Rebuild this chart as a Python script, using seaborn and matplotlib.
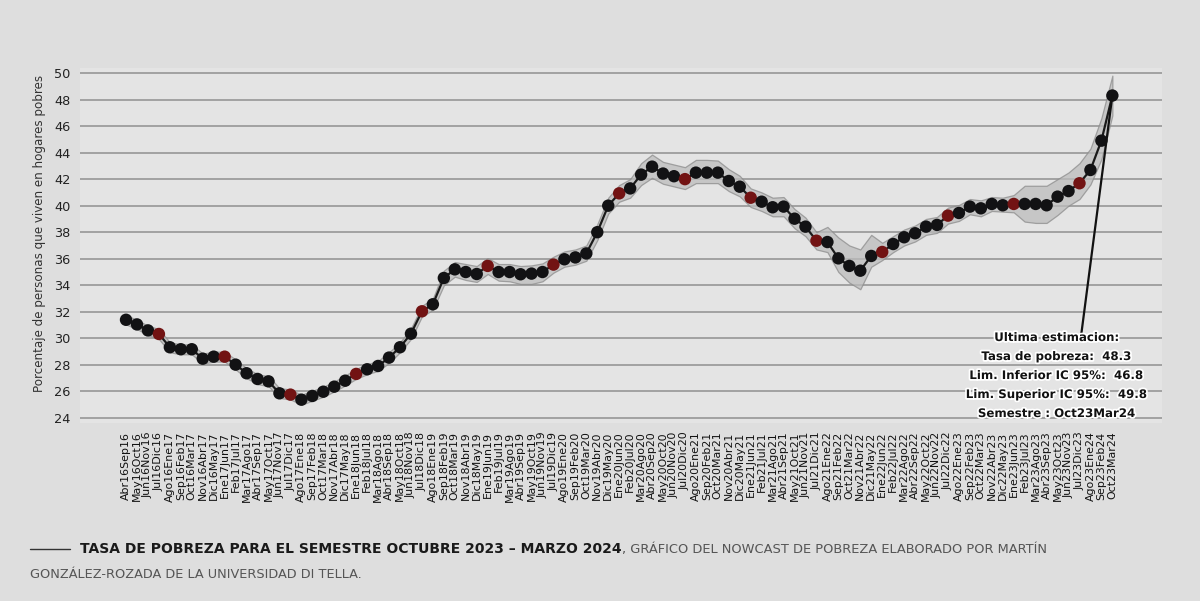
import numpy as np
import pandas as pd
import matplotlib
matplotlib.use("Agg")
import matplotlib.pyplot as plt
import matplotlib.patheffects as pe
import seaborn as sns

periods = [
    "Abr16Sep16", "May16Oct16", "Jun16Nov16", "Jul16Dic16", "Ago16Ene17", "Sep16Feb17",
    "Oct16Mar17", "Nov16Abr17", "Dic16May17",
    "Ene17Jun17", "Feb17Jul17", "Mar17Ago17", "Abr17Sep17", "May17Oct17", "Jun17Nov17",
    "Jul17Dic17", "Ago17Ene18", "Sep17Feb18", "Oct17Mar18", "Nov17Abr18", "Dic17May18",
    "Ene18Jun18", "Feb18Jul18", "Mar18Ago18", "Abr18Sep18", "May18Oct18", "Jun18Nov18",
    "Jul18Dic18", "Ago18Ene19", "Sep18Feb19", "Oct18Mar19", "Nov18Abr19", "Dic18May19",
    "Ene19Jun19", "Feb19Jul19", "Mar19Ago19", "Abr19Sep19", "May19Oct19", "Jun19Nov19",
    "Jul19Dic19", "Ago19Ene20", "Sep19Feb20", "Oct19Mar20", "Nov19Abr20", "Dic19May20",
    "Ene20Jun20", "Feb20Jul20", "Mar20Ago20", "Abr20Sep20", "May20Oct20", "Jun20Nov20",
    "Jul20Dic20", "Ago20Ene21", "Sep20Feb21", "Oct20Mar21", "Nov20Abr21", "Dic20May21",
    "Ene21Jun21", "Feb21Jul21", "Mar21Ago21", "Abr21Sep21", "May21Oct21", "Jun21Nov21",
    "Jul21Dic21", "Ago21Ene22", "Sep21Feb22", "Oct21Mar22", "Nov21Abr22", "Dic21May22",
    "Ene22Jun22", "Feb22Jul22", "Mar22Ago22", "Abr22Sep22", "May22Oct22", "Jun22Nov22",
    "Jul22Dic22", "Ago22Ene23", "Sep22Feb23", "Oct22Mar23", "Nov22Abr23", "Dic22May23",
    "Ene23Jun23", "Feb23Jul23", "Mar23Ago23", "Abr23Sep23", "May23Oct23", "Jun23Nov23",
    "Jul23Dic23", "Ago23Ene24", "Sep23Feb24", "Oct23Mar24",
]

poverty = [
    31.4, 31.05, 30.6, 30.33, 29.33, 29.18, 29.18, 28.47, 28.62, 28.62,
    28.02, 27.37, 26.94, 26.76, 25.86, 25.76, 25.38, 25.66, 25.98, 26.36,
    26.81, 27.32, 27.67, 27.92, 28.55, 29.33, 30.35, 32.04, 32.57, 34.55,
    35.2, 35.0, 34.85, 35.46, 35.0, 35.0, 34.83, 34.88, 35.0, 35.56,
    35.96, 36.1, 36.4, 38.0, 40.0, 40.93, 41.3, 42.34, 42.94, 42.42,
    42.22, 42.0, 42.49, 42.49, 42.49, 41.86, 41.43, 40.6, 40.3, 39.88,
    39.93, 39.02, 38.42, 37.36, 37.26, 36.03, 35.46, 35.1, 36.21, 36.51,
    37.11, 37.62, 37.92, 38.42, 38.55, 39.25, 39.45, 39.93, 39.8, 40.13,
    40.03, 40.13, 40.13, 40.13, 40.03, 40.68, 41.1, 41.69, 42.69, 44.9,
    48.3,
]

ci_lower = [
    31.05, 30.7, 30.25, 29.95, 28.95, 28.8, 28.8, 28.1, 28.25, 28.25,
    27.65, 27.0, 26.55, 26.4, 25.5, 25.4, 25.0, 25.3, 25.6, 26.0,
    26.45, 26.95, 27.3, 27.55, 28.15, 28.95, 29.95, 31.65, 32.15, 34.0,
    34.65, 34.4, 34.25, 34.85, 34.35, 34.3, 34.1, 34.1, 34.3, 34.95,
    35.4, 35.55, 35.85, 37.4, 39.4, 40.3, 40.6, 41.55, 42.1, 41.65,
    41.45, 41.25, 41.7, 41.7, 41.7, 41.1, 40.7, 39.9, 39.6, 39.2,
    39.2, 38.3, 37.7, 36.7, 36.5, 35.0, 34.2, 33.7, 35.4, 35.9,
    36.5, 37.0, 37.3, 37.8, 37.95, 38.65, 38.85, 39.35, 39.2, 39.6,
    39.55, 39.5, 38.8, 38.7, 38.7, 39.3, 40.0, 40.5, 41.6, 43.5,
    46.8,
]

ci_upper = [
    31.75, 31.4, 30.95, 30.7, 29.7, 29.55, 29.55, 28.85, 29.0, 29.0,
    28.4, 27.75, 27.3, 27.15, 26.25, 26.15, 25.75, 26.05, 26.35, 26.75,
    27.2, 27.7, 28.05, 28.3, 28.95, 29.7, 30.75, 32.45, 33.0, 35.1,
    35.75, 35.6, 35.45, 36.05, 35.6, 35.6, 35.45, 35.5, 35.65, 36.15,
    36.55, 36.7, 37.0, 38.6, 40.6, 41.55, 42.0, 43.2, 43.85, 43.3,
    43.1, 42.9, 43.45, 43.45, 43.4, 42.75, 42.25, 41.3, 41.0, 40.6,
    40.65, 39.75, 39.1, 38.0, 38.4, 37.6, 37.0, 36.7, 37.8, 37.2,
    37.7, 38.2, 38.5, 39.0, 39.15, 39.85, 40.05, 40.5, 40.4, 40.65,
    40.6, 40.8, 41.5, 41.5, 41.5, 42.0, 42.5, 43.2, 44.3, 46.6,
    49.8,
]

y_ticks = [24, 26, 28, 30, 32, 34, 36, 38, 40, 42, 44, 46, 48, 50]

annot_lines = [
    "Ultima estimacion:",
    "Tasa de pobreza:  48.3",
    "Lim. Inferior IC 95%:  46.8",
    "Lim. Superior IC 95%:  49.8",
    "Semestre : Oct23Mar24",
]

caption_bold = "TASA DE POBREZA PARA EL SEMESTRE OCTUBRE 2023 \u2013 MARZO 2024"
caption_rest = ", GR\u00c1FICO DEL NOWCAST DE POBREZA ELABORADO POR MART\u00cdN"
caption_line2 = "GONZ\u00c1LEZ-ROZADA DE LA UNIVERSIDAD DI TELLA."

df = pd.DataFrame({
    "idx": np.arange(len(periods)),
    "periodo": periods,
    "tasa": poverty,
    "lo": ci_lower,
    "hi": ci_upper,
})
df["oficial"] = df["periodo"].str.startswith(("Ene", "Jul"))

sns.set_theme(style="white")
plt.rcParams["font.family"] = ["DejaVu Sans"]

BG = "#dedede"
AXBG = "#e4e4e4"

fig = plt.figure(figsize=(12, 6.01), dpi=100, facecolor=BG)
ax = fig.add_axes([80 / 1200, 0.2957, 1082 / 1200, 0.5917])
ax.set_facecolor(AXBG)

for t in y_ticks:
    ax.axhline(t, color="#9c9c9c", lw=1.3, zorder=0)

ax.fill_between(df["idx"], df["lo"], df["hi"], facecolor="#bcbcbc", alpha=0.75,
                edgecolor="#8c8c8c", lw=0.9, zorder=1)

sns.lineplot(data=df, x="idx", y="tasa", ax=ax, color="#1a1a1a", lw=1.6,
             zorder=2, legend=False)
sns.scatterplot(data=df, x="idx", y="tasa", hue="oficial",
                palette={False: "#121214", True: "#721313"}, s=80,
                edgecolor="none", ax=ax, zorder=3, legend=False)

ax.set_xlim(-4.2, 94.53)
ax.set_ylim(23.6, 50.4)
ax.set_yticks(y_ticks)
ax.set_yticklabels([str(t) for t in y_ticks], fontsize=9.3, color="#222222")
ax.set_xticks(df["idx"])
ax.set_xticklabels(periods, rotation=90, fontsize=7.9, color="#111111")
ax.tick_params(axis="y", length=4, width=0.8, color="#555555", pad=3)
ax.tick_params(axis="x", length=3, width=0.8, color="#555555", pad=3)
for s in ax.spines.values():
    s.set_visible(False)
ax.set_xlabel("")
ax.set_ylabel("Porcentaje de personas que viven en hogares pobres", fontsize=8.6,
              color="#333333")
ax.yaxis.set_label_coords(-0.031, 0.535)

# annotation of the last estimate
last = len(periods) - 1
ax.plot([87.1, last], [29.9, poverty[last]], color="#111111", lw=1.6, zorder=4)
ax.text(84.9, 27.2, "\n".join(annot_lines), ha="center", va="center",
        fontsize=8.5, fontweight="bold", color="#111111", linespacing=1.6,
        zorder=5,
        path_effects=[pe.withStroke(linewidth=2.5, foreground="white")])

# caption
fig.lines.append(plt.Line2D([30 / 1200, 70 / 1200], [1 - 549 / 601, 1 - 549 / 601],
                            transform=fig.transFigure, color="#333333", lw=1.0))
tb = fig.text(80 / 1200, 1 - 549 / 601, caption_bold, fontsize=10.0, fontweight="bold",
              color="#1a1a1a", va="center", ha="left")
fig.canvas.draw()
bb = tb.get_window_extent(renderer=fig.canvas.get_renderer())
fig.text(bb.x1 / fig.bbox.width, 1 - 549 / 601, caption_rest, fontsize=9.4,
         color="#555555", va="center", ha="left")
fig.text(30 / 1200, 1 - 575 / 601, caption_line2, fontsize=9.3, color="#555555",
         va="center", ha="left")

fig.savefig("out.png", dpi=100, facecolor=BG)
